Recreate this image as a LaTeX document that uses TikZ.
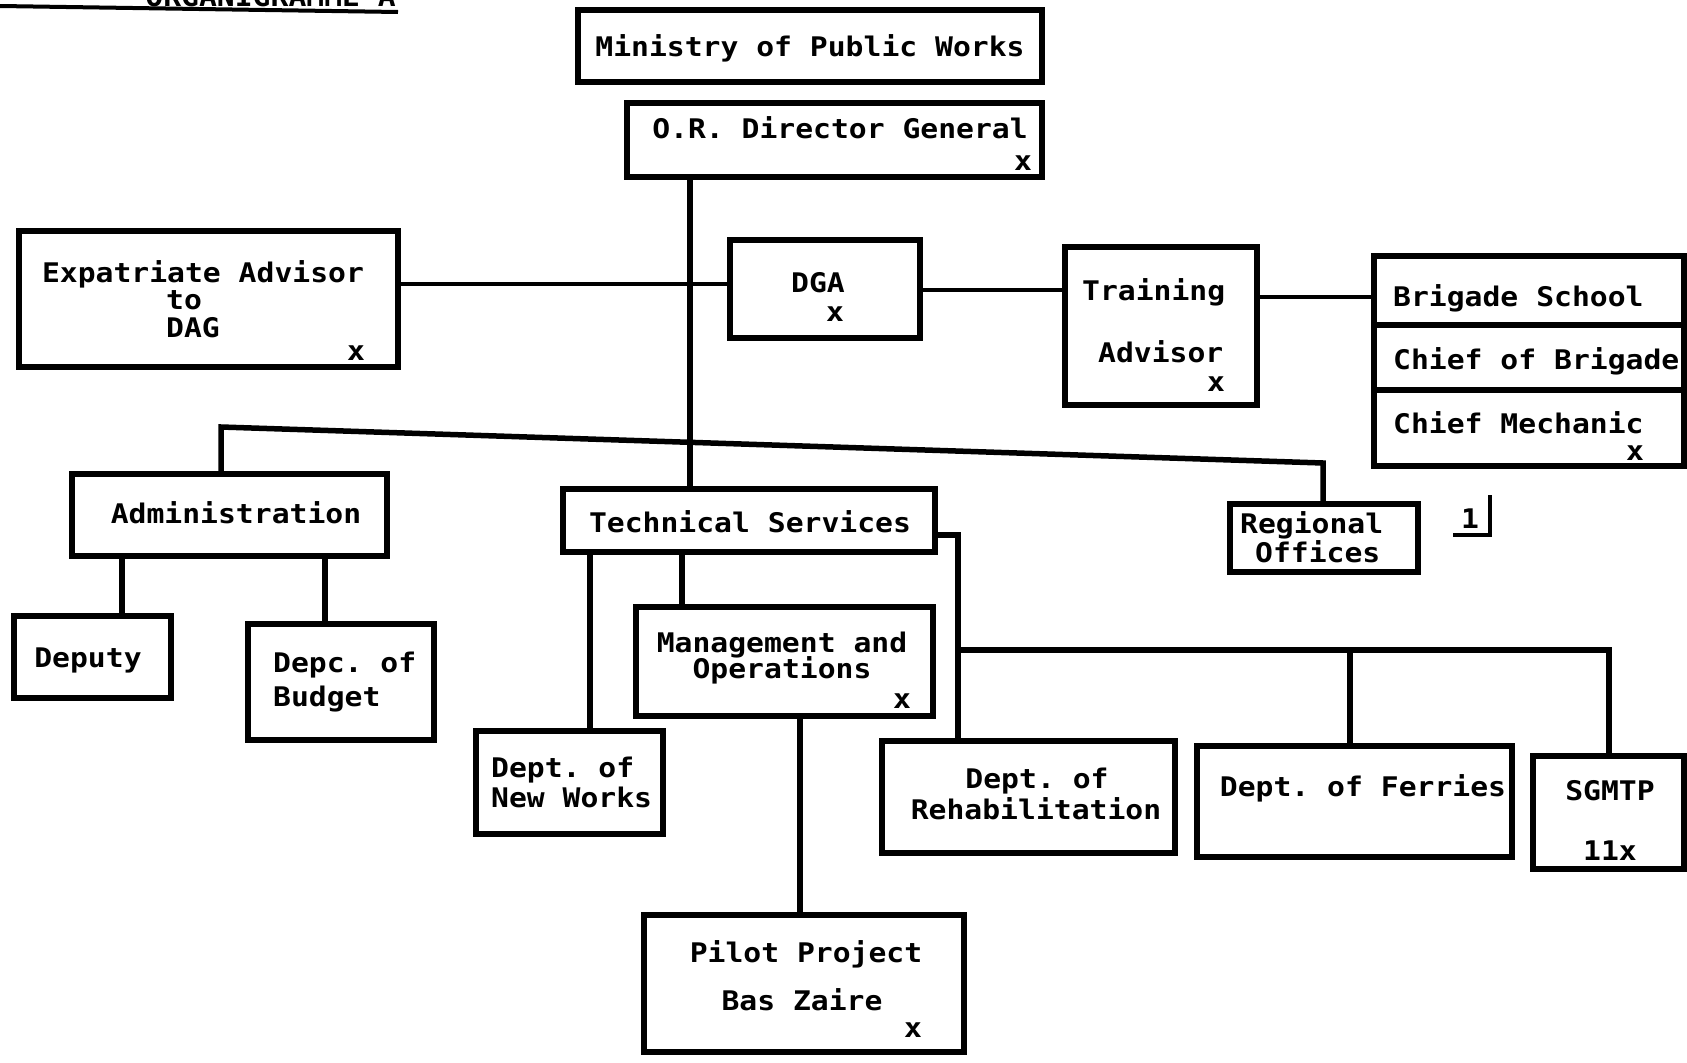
\documentclass[tikz,border=0pt]{standalone}
\usepackage{fontspec}
\setmonofont{DejaVu Sans Mono}[FakeStretch=1.1]
\usetikzlibrary{fit}

% one unit = one pixel of the 1687 x 1063 sheet, y growing downwards
\tikzset{
  x=1pt, y=-1pt,
  box/.style={draw, line width=6pt, inner sep=0pt, rectangle},
  txt/.style={font=\ttfamily\bfseries\fontsize{27}{24}\selectfont,
    inner sep=0pt, text height=18pt, text depth=3pt},
  link/.style={line width=5.5pt},
  thinlink/.style={line width=3.5pt},
}
% \orgbox{name}{x1}{y1}{x2}{y2}
\newcommand\orgbox[5]{%
  \coordinate (#1-nw) at (#2,#3);
  \coordinate (#1-se) at (#4,#5);
  \node[box, fit=(#1-nw)(#1-se)] (#1) {};}

\begin{document}
\begin{tikzpicture}
\fill[white] (0,0) rectangle (1687,1063);
\useasboundingbox (0,0) rectangle (1687,1063);

% heading, running off the top of the sheet
\begin{scope}
  \clip (0,0) rectangle (1687,1063);
  \node[txt, anchor=base east] (title) at (396,6) {ORGANIGRAMME A};
  \coordinate (ulA) at (0,6);
  \coordinate (ulB) at (398,12);
  \draw[line width=4pt] (ulA) -- (ulB);
\end{scope}

% boxes
\orgbox{min}{578}{10}{1042}{82}
\orgbox{dg}{627}{103}{1042}{177}
\orgbox{exp}{19}{231}{398}{367}
\orgbox{dga}{730}{240}{920}{338}
\orgbox{trn}{1065}{247}{1257}{405}
\orgbox{brg}{1374}{256}{1684}{466}
\orgbox{adm}{72}{474}{387}{556}
\orgbox{dep}{14}{616}{171}{698}
\orgbox{bud}{248}{624}{434}{740}
\orgbox{tech}{563}{489}{935}{552}
\orgbox{reg}{1230}{504}{1418}{572}
\orgbox{mgt}{636}{607}{933}{716}
\orgbox{nw}{476}{731}{663}{834}
\orgbox{reh}{882}{741}{1175}{853}
\orgbox{fer}{1197}{746}{1512}{857}
\orgbox{sgm}{1533}{756}{1684}{869}
\orgbox{pil}{644}{915}{964}{1052}

% compartments of the brigade box
\coordinate (bd1) at (0,325);
\coordinate (bd2) at (0,390);
\draw[link] (bd1 -| brg.west) -- (bd1 -| brg.east);
\draw[link] (bd2 -| brg.west) -- (bd2 -| brg.east);

% texts
\node[txt, anchor=base] (t-min) at (810,56) {Ministry of Public Works};
\node[txt, anchor=base] (t-dg) at (840,138) {O.R. Director General};
\node[txt, anchor=base] (x-dg) at (1023,170) {x};

\node[txt, anchor=base] (t-exp1) at (203,282) {Expatriate Advisor};
\node[txt, anchor=base west] (t-exp2) at (166,309) {to};
\node[txt, anchor=base west] (t-exp3) at (166,337) {DAG};
\node[txt, anchor=base] (x-exp) at (356,360) {x};

\node[txt, anchor=base] (t-dga) at (818,292) {DGA};
\node[txt, anchor=base] (x-dga) at (835,321) {x};

\node[txt, anchor=base west] (t-trn1) at (1082,300) {Training};
\node[txt, anchor=base west] (t-trn2) at (1098,362) {Advisor};
\node[txt, anchor=base] (x-trn) at (1216,391) {x};

\node[txt, anchor=base west] (t-brg1) at (1393,306) {Brigade School};
\node[txt, anchor=base west] (t-brg2) at (1393,369) {Chief of Brigade};
\node[txt, anchor=base west] (t-brg3) at (1393,433) {Chief Mechanic};
\node[txt, anchor=base] (x-brg) at (1635,460) {x};

\node[txt, anchor=base] (t-adm) at (236,523) {Administration};
\node[txt, anchor=base] (t-dep) at (88,667) {Deputy};
\node[txt, anchor=base west] (t-bud1) at (273,672) {Depc. of};
\node[txt, anchor=base west] (t-bud2) at (273,706) {Budget};

\node[txt, anchor=base] (t-tech) at (750,532) {Technical Services};
\node[txt, anchor=base west] (t-reg1) at (1240,533) {Regional};
\node[txt, anchor=base west] (t-reg2) at (1255,562) {Offices};
\node[txt, anchor=base] (t-note) at (1470,528) {1};
\coordinate (nA) at (1453,535);
\coordinate (nB) at (1490,535);
\coordinate (nC) at (1490,495);
\draw[line width=3.5pt] (nA) -- (nB) -- (nC);

\node[txt, anchor=base] (t-mgt1) at (782,652) {Management and};
\node[txt, anchor=base] (t-mgt2) at (782,678) {Operations};
\node[txt, anchor=base] (x-mgt) at (902,708) {x};

\node[txt, anchor=base west] (t-nw1) at (491,777) {Dept. of};
\node[txt, anchor=base west] (t-nw2) at (491,807) {New Works};

\node[txt, anchor=base] (t-reh1) at (1037,788) {Dept. of};
\node[txt, anchor=base] (t-reh2) at (1036,819) {Rehabilitation};
\node[txt, anchor=base] (t-fer) at (1363,796) {Dept. of Ferries};
\node[txt, anchor=base] (t-sgm1) at (1610,800) {SGMTP};
\node[txt, anchor=base] (t-sgm2) at (1610,860) {11x};

\node[txt, anchor=base] (t-pil1) at (806,962) {Pilot Project};
\node[txt, anchor=base] (t-pil2) at (802,1010) {Bas Zaire};
\node[txt, anchor=base] (x-pil) at (913,1037) {x};

% connectors
\coordinate (trunk) at (690,0);
\draw[link] (trunk |- dg.south) -- (trunk |- tech.north);

\coordinate (h1) at (0,284);
\draw[thinlink] (h1 -| exp.east) -- (h1 -| dga.west);
\coordinate (h2) at (0,290);
\draw[thinlink] (h2 -| dga.east) -- (h2 -| trn.west);
\coordinate (h3) at (0,297);
\draw[thinlink] (h3 -| trn.east) -- (h3 -| brg.west);

\coordinate (busL) at (221,427);
\coordinate (busR) at (1323,463);
\draw[link] (busL |- adm.north) -- (busL) -- (busR) -- (busR |- reg.north);

\coordinate (vdep) at (122,0);
\draw[link] (vdep |- adm.south) -- (vdep |- dep.north);
\coordinate (vbud) at (325,0);
\draw[link] (vbud |- adm.south) -- (vbud |- bud.north);

\coordinate (vnw) at (590,0);
\draw[link] (vnw |- tech.south) -- (vnw |- nw.north);
\coordinate (vmgt) at (682,0);
\draw[link] (vmgt |- tech.south) -- (vmgt |- mgt.north);
\coordinate (vpil) at (800,0);
\draw[link] (vpil |- mgt.south) -- (vpil |- pil.north);

\coordinate (tr) at (958,535);
\draw[link] (tr -| tech.east) -- (tr) -- (tr |- reh.north);
\coordinate (brL) at (958,650);
\coordinate (brM) at (1350,650);
\coordinate (brR) at (1609,650);
\draw[link] (brL) -- (brR) -- (brR |- sgm.north);
\draw[link] (brM) -- (brM |- fer.north);
\end{tikzpicture}
\end{document}
